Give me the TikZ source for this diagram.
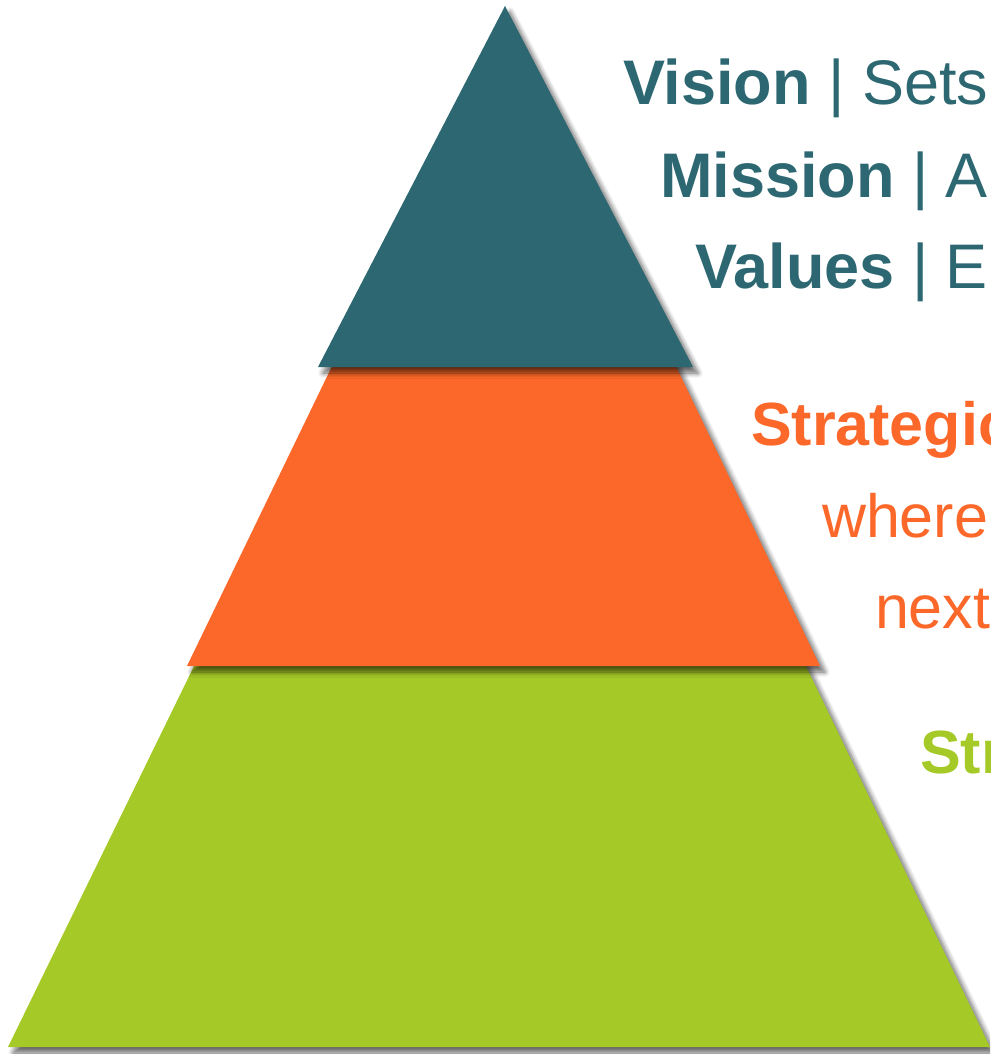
\documentclass[tikz,border=0pt]{standalone}
\usepackage{fontspec}
\setmainfont{Liberation Sans}
\usepackage{xcolor}
\usetikzlibrary{shadows.blur}
\definecolor{visionteal}{RGB}{45,104,114}
\definecolor{strategyorange}{RGB}{252,104,41}
\definecolor{structuregreen}{RGB}{165,202,39}
\tikzset{
    layer/.style = {blur shadow={shadow xshift=5pt, shadow yshift=-6pt, shadow blur radius=5pt, shadow blur steps=8, shadow opacity=60}},
    teal_layer/.style = {layer, fill=visionteal},
    orange_layer/.style = {layer, fill=strategyorange},
    green_layer/.style = {layer, fill=structuregreen}
}
\tikzset{
    say/.style = {anchor=base west, inner sep=0pt, outer sep=0pt},
    teal_say/.style = {say, visionteal, font=\fontsize{63}{63}\selectfont},
    orange_say/.style = {say, strategyorange, font=\fontsize{61}{61}\selectfont},
    green_say/.style = {say, structuregreen, font=\fontsize{61}{61}\selectfont}
}
\begin{document}
\begin{tikzpicture}[x=1pt, y=-1pt]
    \useasboundingbox (0,0) rectangle (990,1054);
    \clip (0,0) rectangle (990,1054);

    % layers, bottom one first
    \fill [green_layer] (197,660) -- (803,660) -- (990,1047) -- (8,1047) -- cycle;
    \fill [orange_layer] (335,360) -- (673,360) -- (820,666) -- (187,666) -- cycle;
    \fill [teal_layer] (505,6) -- (693,367) -- (318,367) -- cycle;

    % texts
    \node (vision)  [teal_say] at (623,105) {\textbf{Vision} | Sets};
    \node (mission) [teal_say] at (660,197) {\textbf{Mission} | A};
    \node (values)  [teal_say] at (695,288) {\textbf{Values} | E};

    \node (strategic) [orange_say] at (751,445) {\textbf{Strategic}};
    \node (where)     [orange_say] at (822,537) {where};
    \node (next)      [orange_say] at (875,628) {next};

    \node (structure) [green_say] at (920,773) {\textbf{Str}};
\end{tikzpicture}
\end{document}
